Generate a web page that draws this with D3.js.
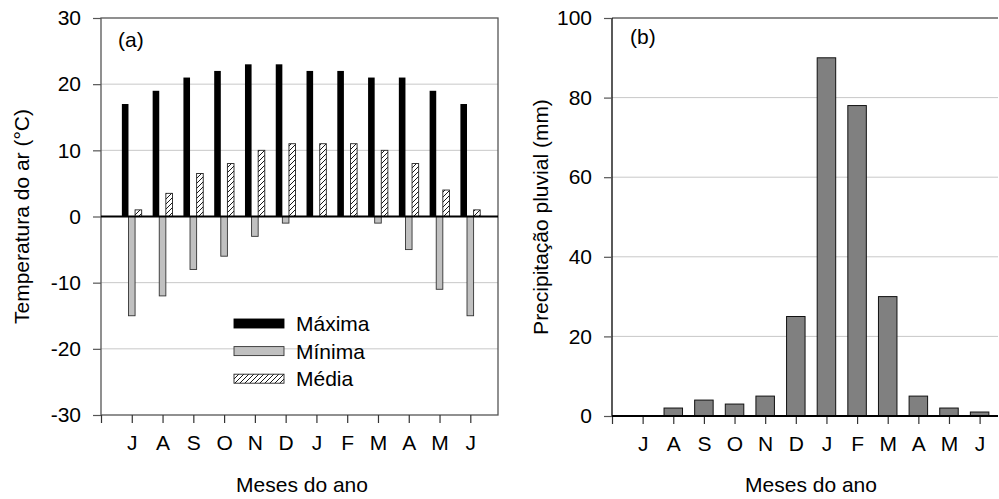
<!DOCTYPE html>
<html><head><meta charset="utf-8">
<script src="https://cdn.jsdelivr.net/npm/d3@7"></script>
<style>body{margin:0;background:#fff}svg{display:block}text{font-family:"Liberation Sans",Arial,sans-serif;fill:#000}</style>
</head><body>
<svg id="c" width="999" height="499"></svg>
<script>
const months = ["J","A","S","O","N","D","J","F","M","A","M","J"];
const tMax = [17,19,21,22,23,23,22,22,21,21,19,17];
const tMin = [-15,-12,-8,-6,-3,-1,0,0,-1,-5,-11,-15];
const tMed = [1,3.5,6.5,8,10,11,11,11,10,8,4,1];
const precip = [0,2,4,3,5,25,90,78,30,5,2,1];
const tempTicks = [-30,-20,-10,0,10,20,30];
const precTicks = [0,20,40,60,80,100];
const seriesNames = ["Máxima","Mínima","Média"];

const svg = d3.select("#c");
const FS = 21;
const FF = "Liberation Sans, Arial, sans-serif";
const fmt = d => String(d);
const defs = svg.append("defs");
const pat = defs.append("pattern").attr("id","hatch").attr("patternUnits","userSpaceOnUse")
  .attr("width",5).attr("height",5);
pat.append("rect").attr("width",5).attr("height",5).attr("fill","#fff");
pat.append("path").attr("d","M-1,1 L1,-1 M0,5 L5,0 M4,6 L6,4").attr("stroke","#000").attr("stroke-width",0.9);

// ---------- Panel (a) ----------
const xa = d3.scaleLinear().domain([0,12.9]).range([101,498]);
const ya = d3.scaleLinear().domain([-30,30]).range([415,18]);
const ga = svg.append("g");
ga.selectAll("line.grid").data(tempTicks.filter(d=>d!==0 && Math.abs(d)!==30)).join("line")
  .attr("x1",xa(0)).attr("x2",xa.range()[1]).attr("y1",d=>ya(d)).attr("y2",d=>ya(d))
  .attr("stroke","#c8c8c8").attr("stroke-width",1);
const idx = d3.range(months.length);
const bw = 6.6;
ga.selectAll("rect.max").data(idx).join("rect")
  .attr("x",i=>xa(i+1)-1.5*bw).attr("width",bw)
  .attr("y",i=>ya(Math.max(0,tMax[i]))).attr("height",i=>Math.abs(ya(tMax[i])-ya(0)))
  .attr("fill","#000");
ga.selectAll("rect.min").data(idx.filter(i=>tMin[i]!==0)).join("rect")
  .attr("x",i=>xa(i+1)-0.5*bw).attr("width",bw)
  .attr("y",ya(0)).attr("height",i=>Math.abs(ya(tMin[i])-ya(0)))
  .attr("fill","#c0c0c0").attr("stroke","#333").attr("stroke-width",0.9);
ga.selectAll("rect.med").data(idx).join("rect")
  .attr("x",i=>xa(i+1)+0.5*bw).attr("width",bw)
  .attr("y",i=>ya(tMed[i])).attr("height",i=>Math.abs(ya(tMed[i])-ya(0)))
  .attr("fill","url(#hatch)").attr("stroke","#222").attr("stroke-width",0.9);
ga.append("rect").attr("x",xa(0)).attr("y",ya(30)).attr("width",xa.range()[1]-xa(0)).attr("height",ya(-30)-ya(30))
  .attr("fill","none").attr("stroke","#555").attr("stroke-width",1.3);
ga.append("line").attr("x1",xa(0)).attr("x2",xa.range()[1]).attr("y1",ya(0)).attr("y2",ya(0))
  .attr("stroke","#000").attr("stroke-width",2);
const yAxA = ga.append("g").attr("transform",`translate(${xa(0)},0)`)
  .call(d3.axisLeft(ya).tickValues(tempTicks).tickFormat(fmt).tickSize(8).tickPadding(12));
yAxA.select(".domain").remove();
yAxA.selectAll("line").attr("stroke","#555").attr("stroke-width",1.2);
yAxA.selectAll("text").attr("font-size",FS).attr("font-family",FF);
const xAxA = ga.append("g").attr("transform",`translate(0,${ya(-30)})`)
  .call(d3.axisBottom(xa).tickValues(d3.range(0,13)).tickFormat(d=>d===0?"":months[d-1]).tickSize(8).tickPadding(12));
xAxA.select(".domain").remove();
xAxA.selectAll("line").attr("stroke","#333").attr("stroke-width",1.2);
xAxA.selectAll("text").attr("font-size",FS).attr("font-family",FF);
ga.append("text").attr("x",118).attr("y",47).attr("font-size",FS).text("(a)");
ga.append("text").attr("transform",`translate(29,${(ya(30)+ya(-30))/2}) rotate(-90)`)
  .attr("text-anchor","middle").attr("font-size",FS).text("Temperatura do ar (°C)");
ga.append("text").attr("x",302).attr("y",492).attr("text-anchor","middle").attr("font-size",FS).text("Meses do ano");
const legFills = ["#000","#c0c0c0","url(#hatch)"];
const legStroke = ["#000","#333","#222"];
const lg = ga.append("g").attr("transform","translate(234,319)");
seriesNames.forEach((n,k)=>{
  lg.append("rect").attr("x",0).attr("y",k*27.6).attr("width",50).attr("height",9)
    .attr("fill",legFills[k]).attr("stroke",legStroke[k]).attr("stroke-width",0.9);
  lg.append("text").attr("x",62).attr("y",k*27.6+12).attr("font-size",FS).text(n);
});

// ---------- Panel (b) ----------
const xb = d3.scaleLinear().domain([0,12.6]).range([612,998]);
const yb = d3.scaleLinear().domain([0,100]).range([416,18]);
const gb = svg.append("g");
gb.selectAll("line.grid").data(precTicks.filter(d=>d>0 && d<100)).join("line")
  .attr("x1",xb(0)).attr("x2",xb.range()[1]).attr("y1",d=>yb(d)).attr("y2",d=>yb(d))
  .attr("stroke","#c8c8c8").attr("stroke-width",1);
gb.append("line").attr("x1",xb(0)).attr("x2",xb.range()[1]).attr("y1",yb(100)).attr("y2",yb(100))
  .attr("stroke","#666").attr("stroke-width",1.3);
const pw = 18.5;
gb.selectAll("rect.p").data(idx.filter(i=>precip[i]>0)).join("rect")
  .attr("x",i=>xb(i+1)-pw/2).attr("width",pw)
  .attr("y",i=>yb(precip[i])).attr("height",i=>yb(0)-yb(precip[i]))
  .attr("fill","#808080").attr("stroke","#111").attr("stroke-width",1);
const yAxB = gb.append("g").attr("transform",`translate(${xb(0)},0)`)
  .call(d3.axisLeft(yb).tickValues(precTicks).tickFormat(fmt).tickSize(8).tickPadding(12));
yAxB.select(".domain").attr("stroke","#000").attr("stroke-width",1.3).attr("d",`M0,${yb(100)}V${yb(0)}`);
yAxB.selectAll("line").attr("stroke","#555").attr("stroke-width",1.2);
yAxB.selectAll("text").attr("font-size",FS).attr("font-family",FF);
const xAxB = gb.append("g").attr("transform",`translate(0,${yb(0)})`)
  .call(d3.axisBottom(xb).tickValues(d3.range(0,13)).tickFormat(d=>d===0?"":months[d-1]).tickSize(8).tickPadding(12));
xAxB.select(".domain").remove();
xAxB.selectAll("line").attr("stroke","#333").attr("stroke-width",1.2);
xAxB.selectAll("text").attr("font-size",FS).attr("font-family",FF);
gb.append("line").attr("x1",xb(0)).attr("x2",xb.range()[1]).attr("y1",yb(0)).attr("y2",yb(0))
  .attr("stroke","#000").attr("stroke-width",2);
gb.append("text").attr("x",630).attr("y",44).attr("font-size",FS).text("(b)");
gb.append("text").attr("transform",`translate(548,${(yb(0)+yb(100))/2}) rotate(-90)`)
  .attr("text-anchor","middle").attr("font-size",FS).text("Precipitação pluvial (mm)");
gb.append("text").attr("x",811).attr("y",492).attr("text-anchor","middle").attr("font-size",FS).text("Meses do ano");
</script>
</body></html>
